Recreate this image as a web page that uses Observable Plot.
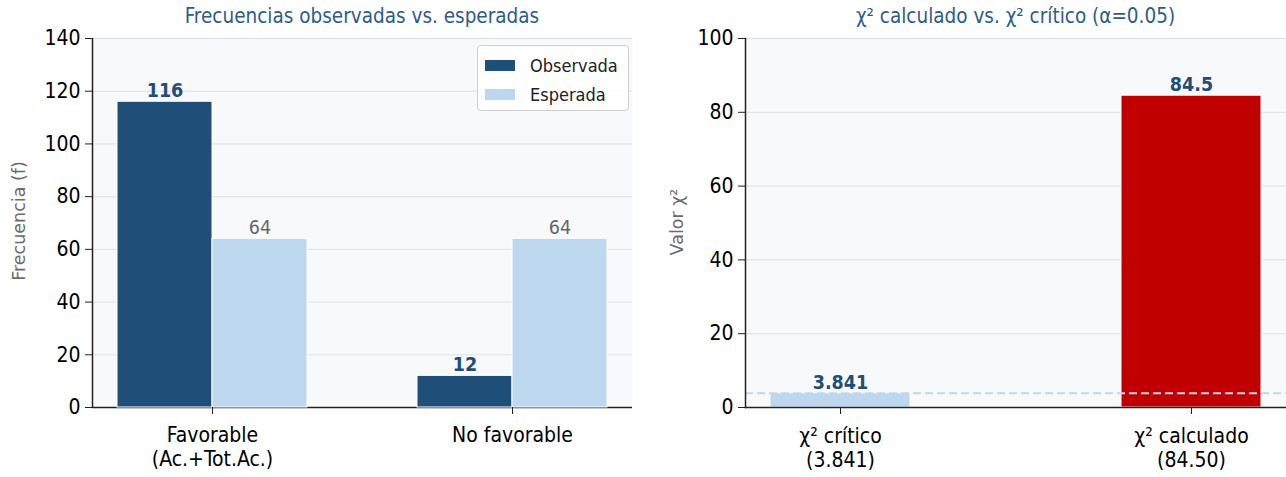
<!DOCTYPE html>
<html><head><meta charset="utf-8">
<script src="https://cdn.jsdelivr.net/npm/d3@7"></script>
<script src="https://cdn.jsdelivr.net/npm/@observablehq/plot@0.6"></script>
<style>
body{margin:0;background:#fff;font-family:"DejaVu Sans Condensed","DejaVu Sans",sans-serif;}
#wrap{position:relative;width:1286px;height:477px;overflow:hidden;}
.abs{position:absolute;}
.title{font-size:20.5px;color:#2e5c8a;text-align:center;top:4px;white-space:nowrap;}
.ylab{font-family:"DejaVu Sans",sans-serif;font-size:17.5px;color:#6b6b6b;white-space:nowrap;transform:translate(-50%,-50%) rotate(-90deg);}
.legend{left:477px;top:45px;width:152px;height:66px;box-sizing:border-box;border:1px solid #cfcfcf;border-radius:4px;background:rgba(255,255,255,0.85);}
.lrow{position:absolute;left:7px;height:22px;display:flex;align-items:center;font-size:18px;color:#222;}
.lsw{width:30px;height:11px;margin-right:15px;}
svg{position:absolute;top:0;}
</style></head><body><div id="wrap"></div>
<script>
// ---- data ----
const categories = ["Favorable", "No favorable"];
const categoryLabels = ["Favorable\n(Ac.+Tot.Ac.)", "No favorable"];
const series = ["Observada", "Esperada"];
const seriesColors = ["#1f4e79", "#bdd7ee"];
const observed = [116, 12];
const expected = [64, 64];
const leftTicks = [0, 20, 40, 60, 80, 100, 120, 140];

const chiKeys = ["critico", "calculado"];
const chiLabels = ["χ² crítico\n(3.841)", "χ² calculado\n(84.50)"];
const chiValues = [3.841, 84.5];
const chiValueLabels = ["3.841", "84.5"];
const chiColors = ["#bdd7ee", "#c00000"];
const rightTicks = [0, 20, 40, 60, 80, 100];
const alpha = 0.05;

const FONT = '"DejaVu Sans Condensed","DejaVu Sans",sans-serif';
const freq = categories.flatMap((c, i) => [
  {category: c, series: series[0], value: observed[i]},
  {category: c, series: series[1], value: expected[i]}
]);
const chi = chiKeys.map((k, i) => ({key: k, value: chiValues[i], label: chiValueLabels[i]}));

const wrap = document.getElementById("wrap");
const BG = "#f8f9fa", GRID = "#dedfe2", SPINE = "#222";
const TICK_FS = 21, LABEL_FS = 19.5;

const leftCommon = {width: 640, height: 477, marginLeft: 92, marginRight: 8, marginTop: 38, marginBottom: 70,
  style: {fontFamily: FONT, background: "transparent", color: "#000", overflow: "visible"}};

const leftBg = Plot.plot({
  ...leftCommon,
  x: {domain: [0, 1], axis: null},
  y: {domain: [0, 140], label: null, axis: null},
  marks: [
    Plot.frame({fill: BG, stroke: "none"}),
    Plot.gridY(leftTicks, {stroke: GRID, strokeOpacity: 1, strokeWidth: 1}),
    Plot.axisY(leftTicks, {tickSize: 7, tickPadding: 5, fontSize: TICK_FS, label: null, stroke: SPINE}),
    Plot.ruleY([0], {stroke: SPINE, strokeWidth: 1.5}),
    Plot.ruleX([0], {stroke: SPINE, strokeWidth: 1.5})
  ]
});
wrap.appendChild(leftBg);
leftBg.style.left = "0px";

const leftBars = Plot.plot({
  ...leftCommon,
  fx: {domain: categories, paddingInner: 0.367, paddingOuter: 0.083, label: null},
  x: {domain: series, padding: 0, axis: null},
  y: {domain: [0, 140], axis: null},
  color: {domain: series, range: seriesColors},
  marks: [
    Plot.barY(freq, {fx: "category", x: "series", y: "value", fill: "series", stroke: "white", strokeWidth: 1}),
    Plot.text(freq.filter(d => d.series === series[0]), {fx: "category", x: "series", y: "value", text: d => String(d.value), dy: -11, fill: "#1f4e79", fontWeight: "bold", fontSize: LABEL_FS}),
    Plot.text(freq.filter(d => d.series === series[1]), {fx: "category", x: "series", y: "value", text: d => String(d.value), dy: -11, fill: "#666", fontSize: LABEL_FS}),
    Plot.axisFx({anchor: "bottom", tickSize: 7, tickPadding: 10, fontSize: TICK_FS, lineHeight: 1.15, label: null, stroke: SPINE,
      tickFormat: c => categoryLabels[categories.indexOf(c)]})
  ]
});
wrap.appendChild(leftBars);
leftBars.style.left = "0px";

const right = Plot.plot({
  width: 646, height: 477, marginLeft: 105, marginRight: 0, marginTop: 38, marginBottom: 70,
  style: {fontFamily: FONT, background: "transparent", color: "#000", overflow: "visible"},
  x: {domain: chiKeys, paddingInner: 0.6, paddingOuter: 0.07, axis: null},
  y: {domain: [0, 100], axis: null},
  color: {domain: chiKeys, range: chiColors},
  marks: [
    Plot.frame({fill: BG, stroke: "none"}),
    Plot.gridY(rightTicks, {stroke: GRID, strokeOpacity: 1, strokeWidth: 1}),
    Plot.axisY(rightTicks, {tickSize: 7, tickPadding: 5, fontSize: TICK_FS, label: null, stroke: SPINE}),
    Plot.barY(chi, {x: "key", y: "value", fill: "key", stroke: "white", strokeWidth: 1}),
    Plot.ruleY([chiValues[0]], {stroke: chiColors[0], strokeWidth: 2, strokeDasharray: "8,4"}),
    Plot.text(chi, {x: "key", y: "value", text: "label", dy: -11, fill: "#1f4e79", fontWeight: "bold", fontSize: LABEL_FS}),
    Plot.ruleY([0], {stroke: SPINE, strokeWidth: 1.5}),
    Plot.frame({anchor: "left", stroke: SPINE, strokeWidth: 1.5}),
    Plot.axisX({anchor: "bottom", tickSize: 7, tickPadding: 11, fontSize: TICK_FS, lineHeight: 1.15, label: null, stroke: SPINE,
      tickFormat: k => chiLabels[chiKeys.indexOf(k)]})
  ]
});
wrap.appendChild(right);
right.style.left = "640px";

function addDiv(cls, html, css) {
  const d = document.createElement("div");
  d.className = "abs " + cls;
  d.innerHTML = html;
  Object.assign(d.style, css || {});
  wrap.appendChild(d);
  return d;
}
addDiv("title", "Frecuencias observadas vs. esperadas", {left: "92px", width: "540px"});
addDiv("title", `χ² calculado vs. χ² crítico (α=${alpha})`, {left: "745px", width: "541px"});
addDiv("ylab", "Frecuencia (f)", {left: "19px", top: "221px"});
addDiv("ylab", "Valor χ²", {left: "677px", top: "222px"});
const leg = addDiv("legend", "");
series.forEach((s, i) => {
  const r = document.createElement("div");
  r.className = "lrow";
  r.style.top = (8 + i * 29) + "px";
  r.innerHTML = `<span class="lsw" style="background:${seriesColors[i]}"></span>${s}`;
  leg.appendChild(r);
});
</script></body></html>
